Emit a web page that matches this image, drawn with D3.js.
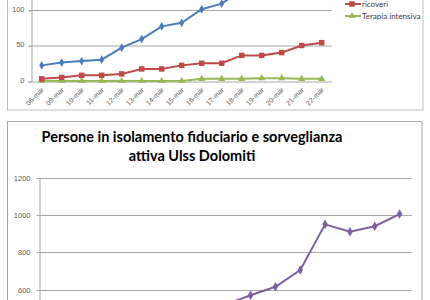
<!DOCTYPE html>
<html>
<head>
<meta charset="utf-8">
<script src="https://cdn.jsdelivr.net/npm/d3@7"></script>
<style>
  body { margin: 0; background: #fff; }
  svg { display: block; font-family: Lato, "Open Sans", sans-serif; }
</style>
</head>
<body>
<svg id="chart" width="430" height="300"></svg>
<script>
// categories (same days for both charts)
const dates = ["06-mar", "09-mar", "10-mar", "11-mar", "12-mar", "13-mar", "14-mar", "15-mar",
  "16-mar", "17-mar", "18-mar", "19-mar", "20-mar", "21-mar", "22-mar"];

// top chart series (the blue one runs off the top of the picture after 17-mar)
const positivi = [22, 26, 28, 30, 47, 59, 77, 82, 101, 109, 128, 140, 152, 165, 175];
const ricoveri = [3, 5, 8, 8, 10, 17, 17, 22, 25, 25, 36, 36, 40, 50, 54];
const terapia = [0, 0, 0, 0, 0, 0, 0, 0, 3, 3, 3, 4, 4, 3, 3];
const topTicks = [0, 50, 100];
const topLegend = ["ricoveri", "Terapia intensiva"];

// bottom chart series (early values are below the visible area)
const isolamento = [60, 110, 160, 210, 270, 330, 400, 520, 570, 615, 705, 950, 910, 940, 1005];
const bottomTicks = [600, 800, 1000, 1200];
const bottomTitle = ["Persone in isolamento fiduciario e sorveglianza", "attiva Ulss Dolomiti"];

const svg = d3.select("#chart");
const gridColor = "#a6a6a6";
const labelColor = "#595959";

// ---------------------------------------------------------------- frames
svg.append("rect")
  .attr("x", 7.5).attr("y", -200).attr("width", 415.5).attr("height", 310)
  .attr("fill", "#fff").attr("stroke", "#bfbfbf");
svg.append("rect")
  .attr("x", 7.5).attr("y", 121.5).attr("width", 414.5).attr("height", 300)
  .attr("fill", "#fff").attr("stroke", "#a6a6a6");

// ---------------------------------------------------------------- top chart
const x1 = d3.scaleBand().domain(dates).range([31.7, 331.7]);
const y1 = d3.scaleLinear().domain([0, 200]).range([81, 81 - 142]);
const chartTop = svg.append("g");

chartTop.selectAll("line.grid")
  .data([50, 100, 150, 200])
  .enter()
  .append("line")
  .attr("class", "grid")
  .attr("x1", 29).attr("x2", 331.7)
  .attr("y1", (d) => y1(d) + 0.5).attr("y2", (d) => y1(d) + 0.5)
  .style("stroke", gridColor);

const yAxis1 = chartTop.append("g")
  .attr("transform", "translate(31.5,0.5)")
  .call(d3.axisLeft(y1).tickValues(topTicks).tickSize(3).tickPadding(4));
yAxis1.selectAll("line, path").style("stroke", gridColor);
yAxis1.selectAll("text").style("fill", labelColor).style("font-size", "7.5px").attr("dy", "0.1em");

const xAxis1 = chartTop.append("g")
  .attr("transform", "translate(0,81.5)")
  .call(d3.axisBottom(x1).tickSize(0));
xAxis1.select(".domain").style("stroke", gridColor);
xAxis1.selectAll("text")
  .style("fill", labelColor)
  .style("font-size", "7px")
  .attr("text-anchor", "end")
  .attr("y", 0).attr("dy", "0.35em")
  .attr("transform", "translate(1,7) rotate(-45)");

const series1 = [
  { values: positivi, color: "#4A7EBB", symbol: d3.symbolDiamond, size: 22 },
  { values: ricoveri, color: "#BE4B48", symbol: d3.symbolSquare, size: 30 },
  { values: terapia, color: "#98B954", symbol: d3.symbolTriangle, size: 22 },
];
const line1 = d3.line()
  .x((d, i) => x1(dates[i]) + x1.bandwidth() / 2)
  .y((d) => y1(d));

series1.slice().reverse().forEach((s) => {
  chartTop.append("path")
    .datum(s.values)
    .attr("d", line1)
    .attr("fill", "none")
    .attr("stroke", s.color)
    .attr("stroke-width", 2);
  chartTop.selectAll(null)
    .data(s.values)
    .enter()
    .append("path")
    .attr("d", d3.symbol(s.symbol, s.size))
    .attr("transform", (d, i) => `translate(${x1(dates[i]) + x1.bandwidth() / 2},${y1(d)})`)
    .attr("fill", s.color);
});

// legend (only the two entries that are inside the picture)
const legend = chartTop.selectAll("g.legend")
  .data(topLegend)
  .enter()
  .append("g")
  .attr("class", "legend")
  .attr("transform", (d, i) => `translate(345,${4 + i * 12})`);
legend.append("line")
  .attr("x1", 0).attr("x2", 16)
  .attr("stroke", (d, i) => series1[i + 1].color).attr("stroke-width", 2);
legend.append("path")
  .attr("d", (d, i) => d3.symbol(series1[i + 1].symbol, series1[i + 1].size)())
  .attr("transform", "translate(7,0)")
  .attr("fill", (d, i) => series1[i + 1].color);
legend.append("text")
  .attr("x", 17).attr("dy", "0.35em")
  .style("font-size", "8px").style("fill", "#404040")
  .text((d) => d);

// ---------------------------------------------------------------- bottom chart
const x2 = d3.scaleBand().domain(dates).range([39.5, 412]);
const y2 = d3.scaleLinear().domain([0, 1200]).range([177.7 + 6 * 37.3, 177.7]);
const chartBottom = svg.append("g");

chartBottom.selectAll("text.title")
  .data(bottomTitle)
  .enter()
  .append("text")
  .attr("class", "title")
  .attr("x", 192).attr("y", (d, i) => 142 + i * 19)
  .attr("text-anchor", "middle")
  .style("font-size", "14.5px").style("font-weight", "bold").style("fill", "#000")
  .text((d) => d);

chartBottom.selectAll("line.grid")
  .data(bottomTicks)
  .enter()
  .append("line")
  .attr("class", "grid")
  .attr("x1", 36.5).attr("x2", 412)
  .attr("y1", (d) => Math.round(y2(d)) + 0.5).attr("y2", (d) => Math.round(y2(d)) + 0.5)
  .style("stroke", gridColor);

const yAxis2 = chartBottom.append("g")
  .attr("transform", "translate(39.5,0)")
  .call(d3.axisLeft(y2).tickValues(bottomTicks).tickFormat(d3.format("d")).tickSize(0).tickPadding(9));
yAxis2.selectAll(".domain").style("stroke", gridColor);
yAxis2.selectAll("text").style("fill", labelColor).style("font-size", "7.5px");

const line2 = d3.line()
  .x((d, i) => x2(dates[i]) + x2.bandwidth() / 2)
  .y((d) => y2(d));
chartBottom.append("path")
  .datum(isolamento)
  .attr("d", line2)
  .attr("fill", "none")
  .attr("stroke", "#7D60A0")
  .attr("stroke-width", 2);
chartBottom.selectAll("path.pt")
  .data(isolamento)
  .enter()
  .append("path")
  .attr("class", "pt")
  .attr("d", d3.symbol(d3.symbolDiamond, 26))
  .attr("transform", (d, i) => `translate(${x2(dates[i]) + x2.bandwidth() / 2},${y2(d)})`)
  .attr("fill", "#7D60A0");
</script>
</body>
</html>
